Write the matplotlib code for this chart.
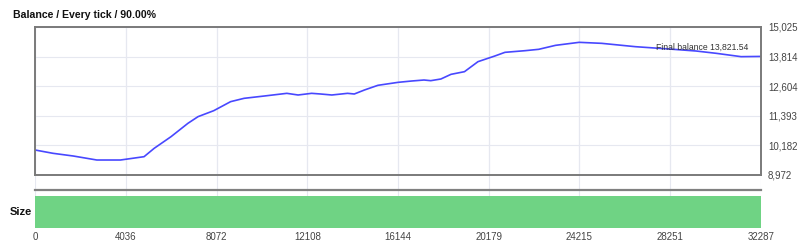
import numpy as np
import matplotlib.pyplot as plt

plt.rcParams['font.family'] = ['Liberation Sans', 'DejaVu Sans']

# balance curve (deal number, balance)
deals = [0, 800, 1700, 2750, 3800, 4850, 5300, 6050, 6800, 7250,
         7950, 8700, 9300, 10200, 11200, 11700, 12300, 12700, 13200, 13900,
         14200, 14650, 15250, 16150, 16750, 17300, 17600, 18050, 18500, 19100,
         19700, 20450, 20900, 21800, 22400, 23150, 24200, 25200, 26700, 28200,
         29400, 30300, 31400, 32287]
balance = [9995, 9859, 9749, 9585, 9585, 9721, 10063, 10540, 11085, 11358,
           11603, 11972, 12108, 12203, 12312, 12244, 12312, 12285, 12244, 12312,
           12285, 12448, 12640, 12762, 12816, 12857, 12830, 12898, 13089, 13198,
           13607, 13839, 13989, 14057, 14112, 14275, 14398, 14357, 14220, 14125,
           14043, 13948, 13812, 13821.54]

xticks = [0, 4036, 8072, 12108, 16144, 20179, 24215, 28251, 32287]
yticks = [8972, 10182, 11393, 12604, 13814, 15025]
ylabels = ['8,972', '10,182', '11,393', '12,604', '13,814', '15,025']
final_balance = 13821.54

fig = plt.figure(figsize=(8, 2.5), dpi=100)

L, W = 35 / 800, 726 / 800
grid_c = '#e6e8f0'

# background axes for the vertical grid that runs through both panels
bg = fig.add_axes([L, 1 - 228 / 250, W, 201 / 250])
bg.set_xlim(0, xticks[-1])
bg.set_xticks(xticks)
bg.grid(axis='x', color=grid_c, lw=0.8)
bg.tick_params(length=0, labelbottom=False, labelleft=False)
for s in bg.spines.values():
    s.set_visible(False)
bg.patch.set_alpha(0)

ax = fig.add_axes([L, 1 - 175 / 250, W, 148 / 250])
ax.patch.set_alpha(0)
ax.plot(deals, balance, color='#4848ff', lw=1.2)
ax.set_xlim(0, xticks[-1])
ax.set_ylim(yticks[0], yticks[-1])
ax.set_xticks(xticks)
ax.set_yticks(yticks)
ax.set_yticklabels(ylabels)
ax.grid(color=grid_c, lw=0.8)
ax.yaxis.tick_right()
ax.tick_params(length=0, labelbottom=False, labelsize=7, colors='#444444', pad=5)
for s in ax.spines.values():
    s.set_color('#7a7a7a')
    s.set_linewidth(1.4)
ax.text(0.855, 0.865, 'Final balance ' + f'{final_balance:,.2f}', transform=ax.transAxes,
        fontsize=6.2, color='#333333', ha='left', va='center')

fig.text(13 / 800, 1 - 15 / 250, 'Balance / Every tick / 90.00%', fontsize=7.6,
         fontweight='bold', ha='left', va='center', color='#111111')

# separator line
fig.add_artist(plt.Line2D([L, L + W], [1 - 190 / 250] * 2, color='#808080', lw=1.6))

sz = fig.add_axes([L, 1 - 228 / 250, W, 32 / 250])
sz.patch.set_alpha(0)
sz.barh([0], [xticks[-1]], height=1, color='#6fd384', align='center')
sz.set_xlim(0, xticks[-1])
sz.set_ylim(-0.5, 0.5)
sz.set_xticks(xticks)
sz.set_yticks([])
sz.tick_params(length=0, labelsize=7, colors='#444444', pad=3)
for s in sz.spines.values():
    s.set_visible(False)
fig.text(32 / 800, 1 - 212 / 250, 'Size', fontsize=8, fontweight='bold',
         ha='right', va='center', color='#111111')

fig.savefig('out.png', dpi=100, facecolor='white')
